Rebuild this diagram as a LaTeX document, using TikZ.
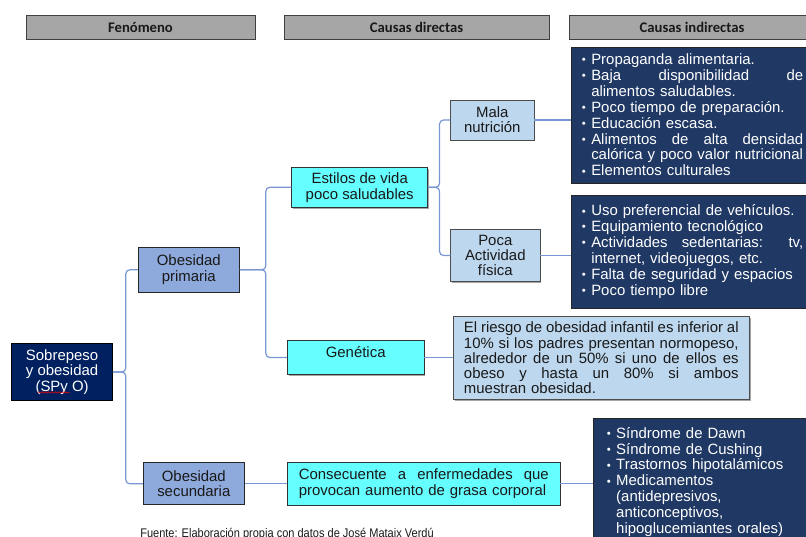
\documentclass[tikz,border=0pt]{standalone}
\usepackage{fontspec}
\setmainfont{Liberation Sans}
\newfontfamily\hdrfont{Carlito}
\newfontfamily\srcfont[FakeStretch=0.88]{Liberation Sans}
\usetikzlibrary{shadows,decorations.pathmorphing}

\definecolor{hdrgray}{HTML}{A6A6A6}
\definecolor{navy}{HTML}{002060}
\definecolor{navybox}{HTML}{203864}
\definecolor{cornflower}{HTML}{8EA9DB}
\definecolor{aqua}{HTML}{66FFFF}
\definecolor{paleblue}{HTML}{BDD7EE}
\definecolor{linkblue}{HTML}{7896D2}

% bullet item with hanging indent, and lines spread to full width
\newcommand{\itm}[1]{\hangindent=7pt\hangafter=1\noindent\makebox[7pt][l]{\raisebox{0.6pt}{\fontsize{8.5}{8.5}\selectfont\textbullet}}#1\par}
\newcommand{\jfirst}[1]{\makebox[\dimexpr\hsize-7pt\relax][s]{\spaceskip=0pt\xspaceskip=0pt #1}\newline}
\newcommand{\jline}[1]{\makebox[\hsize][s]{\spaceskip=0pt\xspaceskip=0pt #1}\newline}

\begin{document}
\begin{tikzpicture}[x=0.75pt,y=-0.75pt]
\tikzstyle{every node}=[font=\fontsize{11.2}{11.9}\selectfont, text=black!90, inner sep=2pt]
\tikzstyle{shade}=[general shadow={fill=black!35, shadow xshift=1pt, shadow yshift=-1pt}]
\tikzstyle{hdr}=[draw=black!75, fill=hdrgray, shade, minimum height=18pt, font=\hdrfont\bfseries\fontsize{11}{13}\selectfont]
\tikzstyle{darkbox}=[draw=black, fill=navy, text=white, align=center, minimum width=75.9pt, minimum height=43pt, font=\fontsize{11.2}{11.6}\selectfont]
\tikzstyle{midbox}=[draw=black!85, thick, fill=cornflower, align=center, minimum width=75.75pt, font=\fontsize{11.2}{11.6}\selectfont]
\tikzstyle{cyanbox}=[draw=black!80, fill=aqua, shade, align=center]
\tikzstyle{lightbox}=[draw=black!70, fill=paleblue, shade, align=center, font=\fontsize{11.2}{11.4}\selectfont]
\tikzstyle{listbox}=[draw=black!85, fill=navybox, shade, text=white, align=left, anchor=north west, inner xsep=8pt]
\tikzstyle{link}=[draw=linkblue, line width=0.9pt, rounded corners=3pt]
\useasboundingbox (0,0) rectangle (806,536);

% column headers
\node[hdr, minimum width=171.75pt] (fen) at (140.5,27) {Fenómeno};
\node[hdr, minimum width=198.75pt] (dir) at (416.5,27) {Causas directas};
\node[hdr, minimum width=184.5pt] (ind) at (692,27) {Causas indirectas};

% phenomenon
\node[darkbox] (sob) at (62.1,372) {Sobrepeso\\y obesidad\\(SPy O)};
\draw[red, decorate, decoration={snake, amplitude=0.5pt, segment length=2.5pt}]
  ([shift={(26.5,-8.5)}]sob.south west) -- ([shift={(58.5,-8.5)}]sob.south west);
\node[midbox, minimum height=33.75pt] (prim) at (188.8,269.8) {Obesidad\\primaria};
\node[midbox, minimum height=31.7pt] (sec) at (193.8,483.8) {Obesidad\\secundaria};

% direct causes
\node[cyanbox, minimum width=102pt, minimum height=30pt] (est) at (359.7,187.3) {Estilos de vida\\poco saludables};
\node[cyanbox, minimum width=102.5pt, minimum height=25.2pt, text height=8.5pt, text depth=8pt] (gen) at (355.7,357.5) {Genética};
\node[cyanbox, text width=187.5pt, inner xsep=8.3pt, minimum height=31.7pt, align=left] (cons) at (423.8,483.8)
  {\jline{Consecuente a enfermedades que}provocan aumento de grasa corporal};
\node[lightbox, minimum width=62.5pt, minimum height=30pt] (mala) at (492.3,120) {Mala\\nutrición};
\node[lightbox, minimum width=67pt, minimum height=39.3pt] (poca) at (495.3,255.5) {Poca\\Actividad\\física};
\node[lightbox, text width=206pt, inner xsep=8pt, minimum height=62pt, align=left] (desc) at (601.3,358)
  {\jline{El riesgo de obesidad infantil es inferior al}\jline{10\% si los padres presentan normopeso,}\jline{alrededor de un 50\% si uno de ellos es}\jline{obeso y hasta un 80\% si ambos}muestran obesidad.};

% indirect causes
\node[listbox, text width=166pt, minimum height=102pt] (nut) at (571,46.7) {%
  \itm{Propaganda alimentaria.}
  \itm{\jfirst{Baja disponibilidad de}alimentos saludables.}
  \itm{Poco tiempo de preparación.}
  \itm{Educación escasa.}
  \itm{\jfirst{Alimentos de alta densidad}calórica y poco valor nutricional}
  \itm{Elementos culturales}};
\node[listbox, text width=166pt, minimum height=84.5pt] (act) at (571,195) {%
  \itm{Uso preferencial de vehículos.}
  \itm{Equipamiento tecnológico}
  \itm{\jfirst{Actividades sedentarias: tv,}internet, videojuegos, etc.}
  \itm{Falta de seguridad y espacios}
  \itm{Poco tiempo libre}};
\node[listbox, text width=160pt, inner xsep=10pt, minimum height=95pt] (med) at (593.3,418.3) {%
  \itm{Síndrome de Dawn}
  \itm{Síndrome de Cushing}
  \itm{Trastornos hipotalámicos}
  \itm{Medicamentos\newline (antidepresivos,\newline anticonceptivos,\newline hipoglucemiantes orales)}};

% connectors
\draw[link] (sob.east) -- ++(12.8,0) |- (prim.west);
\draw[link] (sob.east) -- ++(12.8,0) |- (sec.west);
\draw[link] (prim.east) -- ++(26,0) |- (est.west);
\draw[link] (prim.east) -- ++(26,0) |- (gen.west);
\draw[link] (est.east) -- ++(11.6,0) |- (mala.west);
\draw[link] (est.east) -- ++(11.6,0) |- (poca.west);
\draw[link] (mala.east) -- (mala.east -| nut.west);
\draw[link] (poca.east) -- (poca.east -| act.west);
\draw[link] (gen.east) -- (gen.east -| desc.west);
\draw[link] (sec.east) -- (cons.west);
\draw[link] (cons.east) -- (cons.east -| med.west);

\node[anchor=base west, inner sep=0pt, font=\srcfont\fontsize{9.4}{10}\selectfont] (src) at (140,537)
  {Fuente: Elaboración propia con datos de José Mataix Verdú};
\end{tikzpicture}
\end{document}
